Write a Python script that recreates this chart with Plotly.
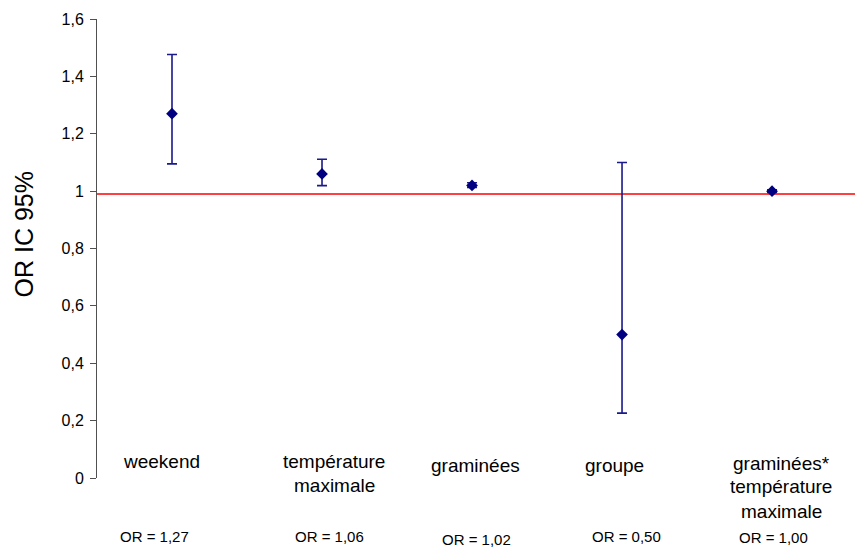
import plotly.graph_objects as go

# Odds ratios with 95% confidence intervals
variables = ["weekend", "température<br>maximale", "graminées", "groupe",
             "graminées*<br>température<br>maximale"]
odds_ratio = [1.27, 1.06, 1.02, 0.50, 1.00]
ci_low = [1.095, 1.019, 1.013, 0.226, 0.995]
ci_high = [1.476, 1.111, 1.029, 1.100, 1.005]
reference_line = 0.99

y_ticks = [0, 0.2, 0.4, 0.6, 0.8, 1.0, 1.2, 1.4, 1.6]
y_tick_labels = ["0", "0,2", "0,4", "0,6", "0,8", "1", "1,2", "1,4", "1,6"]

# label placement: x in category units, y in pixels below the plot top edge
label_x = [-0.067, 1.08, 2.02, 2.947, 4.06]
label_px = [461, 461, 465, 465, 463]
or_x = [-0.12, 1.047, 2.027, 3.027, 4.013]
or_px = [536, 536, 539, 536, 537]

PLOT_TOP, PLOT_H, LINE_GAP = 19, 459, 24
FONT = "Liberation Sans, Arial, sans-serif"


def paper_y(px):
    return (PLOT_TOP + PLOT_H - px) / PLOT_H


x_pos = list(range(len(variables)))
err_plus = [h - o for h, o in zip(ci_high, odds_ratio)]
err_minus = [o - l for o, l in zip(odds_ratio, ci_low)]

fig = go.Figure()
fig.add_trace(go.Scatter(
    x=x_pos, y=odds_ratio, mode="markers",
    marker=dict(symbol="diamond", size=9, color="#000080"),
    error_y=dict(type="data", symmetric=False, array=err_plus, arrayminus=err_minus,
                 color="#1a1a8c", thickness=1.6, width=5),
    showlegend=False, hoverinfo="y",
))

fig.add_shape(type="line", xref="paper", x0=0, x1=1, yref="y",
              y0=reference_line, y1=reference_line,
              line=dict(color="#ff0000", width=1.5), layer="below")

# variable names, one annotation per line
for xv, py, txt in zip(label_x, label_px, variables):
    for k, line in enumerate(txt.split("<br>")):
        fig.add_annotation(x=xv, y=paper_y(py + k * LINE_GAP), xref="x", yref="paper",
                           text=line, showarrow=False, xanchor="center", yanchor="middle",
                           font=dict(family=FONT, size=19, color="#000000"))

# odds ratio values under each variable
for xv, py, v in zip(or_x, or_px, odds_ratio):
    txt = "OR = " + f"{v:.2f}".replace(".", ",")
    fig.add_annotation(x=xv, y=paper_y(py), xref="x", yref="paper",
                       text=txt, showarrow=False, xanchor="center", yanchor="middle",
                       font=dict(family=FONT, size=15, color="#000000"))

# y axis title
fig.add_annotation(x=(23.5 - 97) / 758, y=paper_y(235), xref="paper", yref="paper",
                   text="OR IC 95%", textangle=-90, showarrow=False,
                   xanchor="center", yanchor="middle",
                   font=dict(family=FONT, size=25, color="#000000"))

fig.update_layout(
    width=856, height=549,
    margin=dict(l=97, r=1, t=PLOT_TOP, b=549 - PLOT_TOP - PLOT_H),
    paper_bgcolor="#ffffff", plot_bgcolor="#ffffff",
    font=dict(family=FONT, color="#000000"),
    xaxis=dict(range=[-0.5, 4.553], visible=False, showgrid=False, zeroline=False),
    yaxis=dict(range=[0, 1.6], tickvals=y_ticks, ticktext=y_tick_labels,
               showgrid=False, zeroline=False, showline=True, linecolor="#505050",
               linewidth=1, ticks="outside", ticklen=6, tickcolor="#505050",
               ticklabelstandoff=3, tickfont=dict(size=16)),
)

fig.write_html("out.html")
